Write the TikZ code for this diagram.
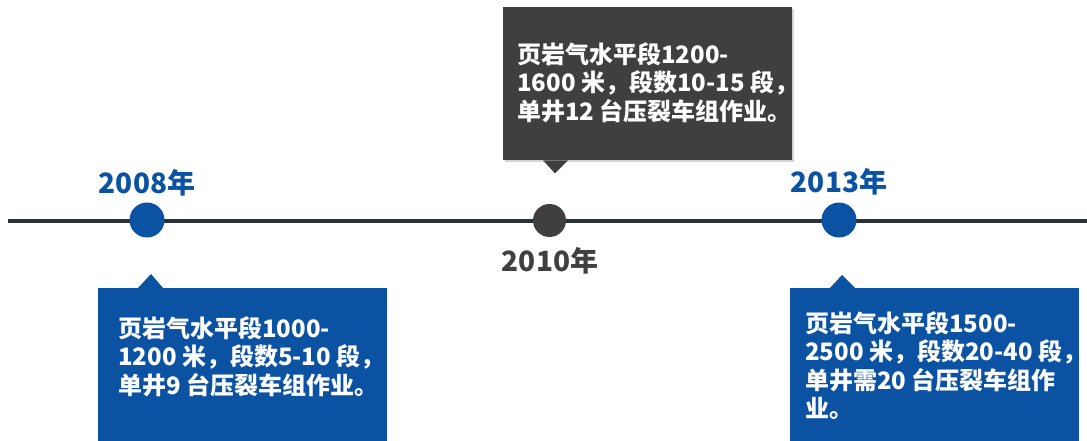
\documentclass[tikz,border=0pt]{standalone}
\usepackage{fontspec}
\newfontfamily\cjk{Noto Sans CJK SC}
\usetikzlibrary{shadows}
\definecolor{tblue}{HTML}{0B52A3}
\definecolor{tdark}{HTML}{3F3F3F}
\definecolor{tline}{HTML}{2B2F36}
\definecolor{tgray}{HTML}{404040}
\begin{document}
\begin{tikzpicture}[x=1pt,y=-1pt,
  boxnode/.style={draw=none,inner sep=0pt,anchor=north west,minimum width=289pt,minimum height=153pt},
  bodytext/.style={text=white,font=\cjk\bfseries\fontsize{24}{28.5}\selectfont,align=left,anchor=north west,inner sep=0pt},
  yearlabel/.style={font=\cjk\bfseries\fontsize{28}{32}\selectfont,inner sep=0pt},
  dot/.style={circle,inner sep=0pt,minimum size=35pt}]
\useasboundingbox (0,0) rectangle (1087,441);
% timeline
\coordinate (L) at (8,221);
\coordinate (R) at (1087,221);
\draw[tline,line width=4pt] (L) -- (R);
\node[dot,fill=tblue] (d1) at (147,220) {};
\node[dot,fill=tdark,minimum size=33pt] (d2) at (549.5,220.5) {};
\node[dot,fill=tblue] (d3) at (839,220) {};
% year labels
\node[yearlabel,text=tblue] (y1) at (147,183) {2008年};
\node[yearlabel,text=tgray] (y2) at (550,261) {2010年};
\node[yearlabel,text=tblue] (y3) at (839,182) {2013年};
% boxes
\node[boxnode,fill=tdark,drop shadow={shadow xshift=1.5pt,shadow yshift=-1.5pt,opacity=0.35}] (b2) at (503,7) {};
\fill[tdark] ([xshift=40pt]b2.south west) -- ([xshift=52pt,yshift=-13pt]b2.south west) -- ([xshift=65pt]b2.south west) -- cycle;
\node[boxnode,fill=tblue] (b1) at (98,288) {};
\fill[tblue] ([xshift=40pt]b1.north west) -- ([xshift=53pt,yshift=14pt]b1.north west) -- ([xshift=65pt]b1.north west) -- cycle;
\node[boxnode,fill=tblue] (b3) at (790,288) {};
\fill[tblue] ([xshift=40pt]b3.north west) -- ([xshift=52pt,yshift=13pt]b3.north west) -- ([xshift=65pt]b3.north west) -- cycle;
% texts
\node[bodytext] (t1) at (118,316) {页岩气水平段1000-\\1200 米，段数5-10 段，\\单井9 台压裂车组作业。};
\node[bodytext] (t2) at (517,42) {页岩气水平段1200-\\1600 米，段数10-15 段，\\单井12 台压裂车组作业。};
\node[bodytext] (t3) at (805,311) {页岩气水平段1500-\\2500 米，段数20-40 段，\\单井需20 台压裂车组作\\业。};
\end{tikzpicture}
\end{document}
